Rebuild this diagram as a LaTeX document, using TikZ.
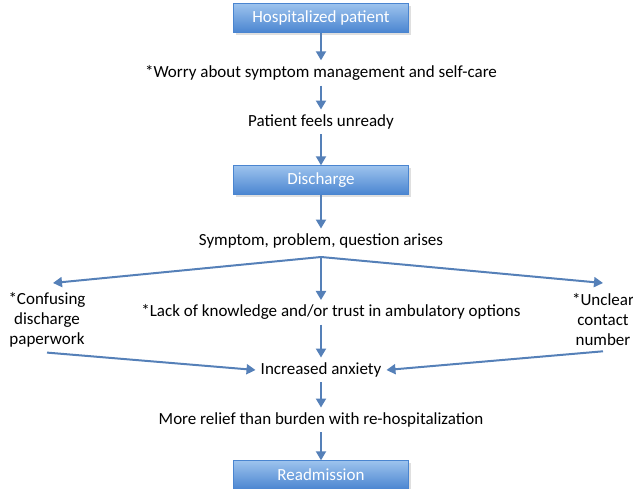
\documentclass[tikz,border=0pt]{standalone}
\usepackage{fontspec}
\setmainfont{Carlito}
\usetikzlibrary{arrows.meta,shadows}
\definecolor{boxtop}{HTML}{9DC3EE}
\definecolor{boxbot}{HTML}{4A85D0}
\definecolor{flowblue}{HTML}{5580B8}
\begin{document}
\begin{tikzpicture}[x=1pt,y=-1pt,
  stagebox/.style={rectangle,minimum width=175pt,minimum height=29pt,top color=boxtop,bottom color=boxbot,draw=boxbot,text=white,font=\fontsize{17}{20}\selectfont,drop shadow={opacity=0.25}},
  steptext/.style={font=\fontsize{17}{20}\selectfont,align=center,inner sep=5pt},
  flow/.style={draw=flowblue,line width=2pt,-{Triangle[length=9pt,width=10pt]}}]
\useasboundingbox (0,0) rectangle (633,489);
% boxes
\node[stagebox] (hosp) at (321,18) {Hospitalized patient};
\node[stagebox] (disch) at (321,180) {Discharge};
\node[stagebox] (readm) at (321,475) {Readmission};
% text steps
\node[steptext] (worry) at (321,73) {*Worry about symptom management and self-care};
\node[steptext] (unready) at (321,122) {Patient feels unready};
\node[steptext] (arises) at (321,241) {Symptom, problem, question arises};
\node[steptext] (confuse) at (47,320) {*Confusing\\discharge\\paperwork};
\node[steptext] (lack) at (331,312) {*Lack of knowledge and/or trust in ambulatory options};
\node[steptext] (unclear) at (603,320) {*Unclear\\contact\\number};
\node[steptext] (anxiety) at (321,370) {Increased anxiety};
\node[steptext] (relief) at (321,420) {More relief than burden with re-hospitalization};
% branch point
\coordinate (fork) at (321,257);
\coordinate (lefttip) at (53,283);
\coordinate (righttip) at (603,283);
\coordinate (midtip) at (321,300);
% arrows
\draw[flow] (hosp) -- (worry);
\draw[flow] (worry) -- (unready);
\draw[flow] (unready) -- (disch);
\draw[flow] (disch) -- (arises);
\draw[flow] (fork) -- (lefttip);
\draw[flow] (fork) -- (righttip);
\draw[flow] (fork) -- (midtip);
\draw[flow] (lack.south -| anxiety.north) -- (anxiety);
\draw[flow] (confuse.south) -- (anxiety.west);
\draw[flow] (unclear.south) -- (anxiety.east);
\draw[flow] (anxiety) -- (relief);
\draw[flow] (relief) -- (readm);
\end{tikzpicture}
\end{document}
